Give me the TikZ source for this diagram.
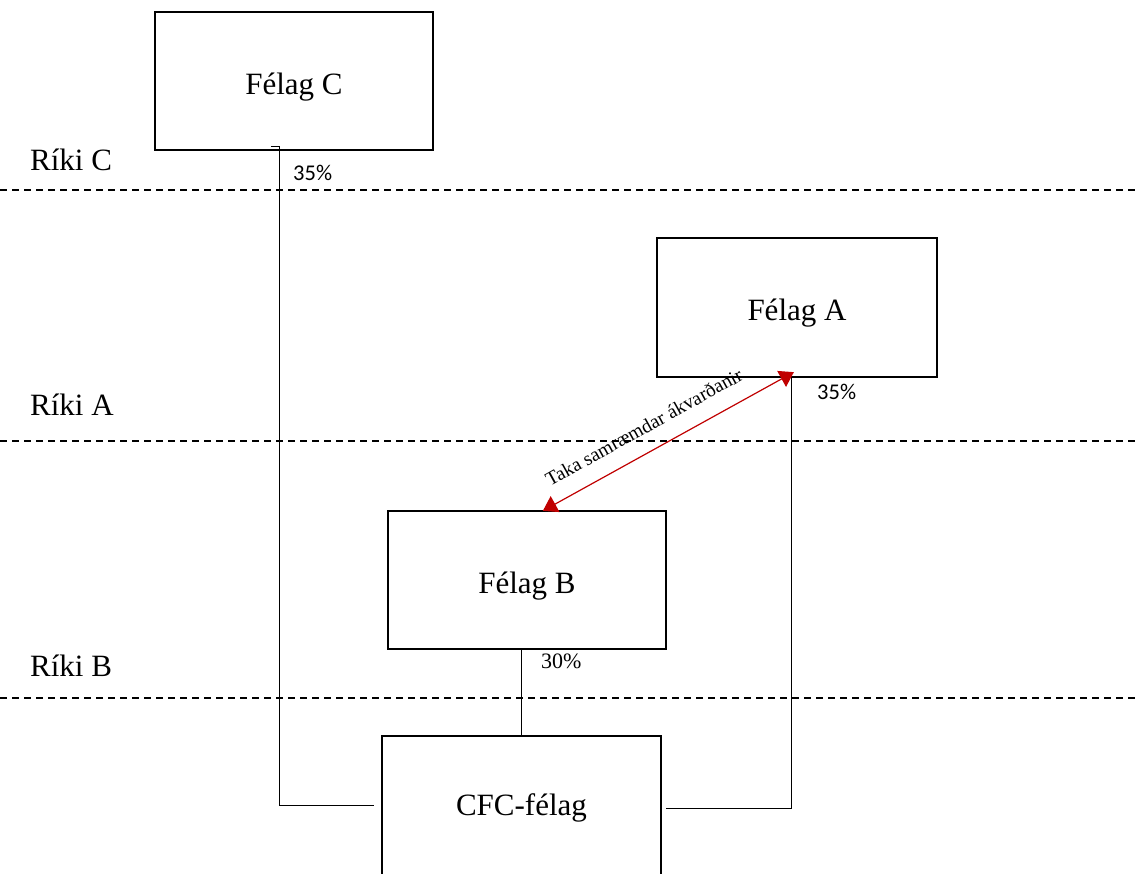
\documentclass[tikz,border=0pt]{standalone}
\usepackage{fontspec}
\setmainfont{Liberation Serif}
\newfontfamily\calib{Carlito}
\usetikzlibrary{calc,arrows.meta}
\definecolor{arrowred}{HTML}{C00000}
\tikzset{
  entity/.style={draw, line width=2.3pt, minimum width=278pt, minimum height=138pt,
    inner sep=0pt, text height=26pt, text depth=0pt,
    font=\fontsize{31}{36}\selectfont},
  country/.style={anchor=base west, inner sep=0pt, font=\fontsize{31}{36}\selectfont},
  share/.style={anchor=base west, inner sep=0pt, font=\calib\fontsize{22.5}{26}\selectfont},
  shareserif/.style={anchor=base west, inner sep=0pt, font=\fontsize{22}{26}\selectfont},
  border/.style={line width=1.5pt, dash pattern=on 7pt off 5pt},
  link/.style={line width=1pt},
  decision/.style={arrowred, line width=1.2pt, {Triangle[length=14pt,width=18pt]}-{Triangle[length=14pt,width=18pt]}}
}
\begin{document}
\begin{tikzpicture}[x=1pt, y=-1pt]
\useasboundingbox (0,0) rectangle (1135,873);
\begin{scope}
\clip (0,0) rectangle (1135,873);

% borders between the countries
\draw[border] (0,190) -- (1135,190);
\draw[border] (0,441) -- (1135,441);
\draw[border] (0,698) -- (1135,698);

% country names
\node[country] (rC) at (30,170) {Ríki C};
\node[country] (rA) at (30,415) {Ríki A};
\node[country] (rB) at (30,676) {Ríki B};

% companies
\node[entity] (C) at (294,81) {Félag C};
\node[entity, minimum width=280pt, minimum height=139pt] (A) at (797,307.5) {Félag A};
\node[entity] (B) at (527,580) {Félag B};
\node[entity, minimum width=279pt, minimum height=140pt, text height=18pt] (CFC) at (521.5,806) {CFC-félag};

% ownership links
\coordinate (cTick) at ($(C.south west)+(117,-4.5)$);
\draw[link] (cTick) -- ++(8.5,0) |- ($(CFC.west)+(-7,-1)$);
\draw[link] (CFC.north) -- (CFC.north |- B.south);
\draw[link] ($(CFC.east)+(4,2)$) -| ($(A.south west)+(136,0)$);

% ownership shares
\node[share] (pC) at (293,180) {35\%};
\node[share] (pA) at (817,399) {35\%};
\node[shareserif] (pB) at (541,668) {30\%};

% coordinated decisions between A and B
\coordinate (dA) at ($(A.south west)+(138,-6)$);
\coordinate (dB) at ($(B.north west)+(156,1)$);
\draw[decision] (dB) -- (dA);
\node[anchor=base, inner sep=0pt, rotate=29, font=\fontsize{19.5}{22}\selectfont] (dec) at (647,433) {Taka samræmdar ákvarðanir};
\end{scope}
\end{tikzpicture}
\end{document}
